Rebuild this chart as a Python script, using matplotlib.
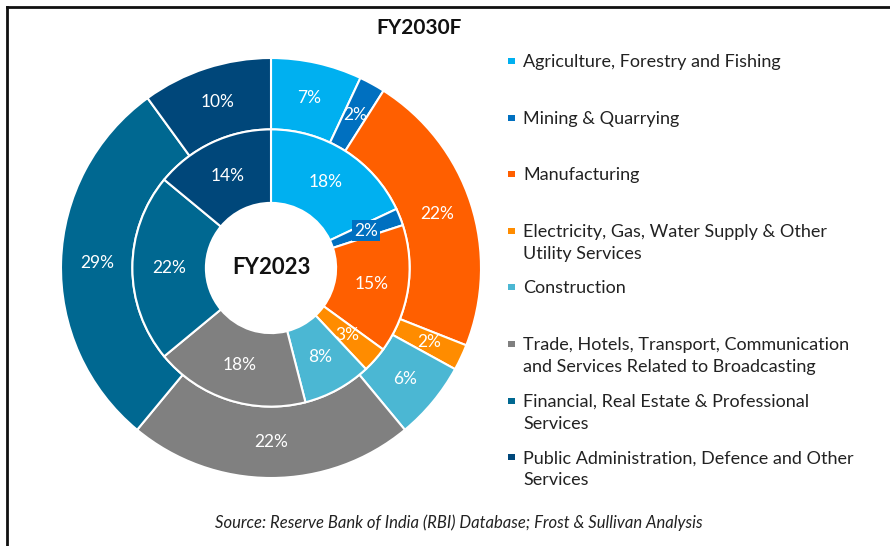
import matplotlib
matplotlib.use("Agg")
import matplotlib.pyplot as plt
from matplotlib.patches import Rectangle
from matplotlib.lines import Line2D

plt.rcParams['font.family'] = ['Lato', 'DejaVu Sans']

# sector shares, % of GVA
sectors = [
    "Agriculture, Forestry and Fishing",
    "Mining & Quarrying",
    "Manufacturing",
    "Electricity, Gas, Water Supply & Other\nUtility Services",
    "Construction",
    "Trade, Hotels, Transport, Communication\nand Services Related to Broadcasting",
    "Financial, Real Estate & Professional\nServices",
    "Public Administration, Defence and Other\nServices",
]
fy2023 = [18, 2, 15, 3, 8, 18, 22, 14]
fy2030f = [7, 2, 22, 2, 6, 22, 29, 10]
colors = ["#00B0F0", "#0070C0", "#FF5F00", "#FF8C00", "#4BB7D3",
          "#808080", "#006891", "#00477A"]

W, H = 890, 546


def fx(x):
    return x / W


def fy(y):
    return 1 - y / H


fig = plt.figure(figsize=(8.9, 5.46), dpi=100)

# frame lines (top and left visible in the original)
fig.add_artist(Line2D([fx(7), 1], [fy(7), fy(7)], color="#111111", lw=2))
fig.add_artist(Line2D([fx(7), fx(7)], [fy(7), 0], color="#111111", lw=2))

cx, cy, R = 271, 268, 210
ax = fig.add_axes([fx(cx - R), fy(cy + R), 2 * R / W, 2 * R / H])

r_in, r_mid, r_out = 0.31, 0.66, 1.0
pct = lambda p: f"{p:.0f}%"

w_out, _, t_out = ax.pie(fy2030f, radius=r_out, colors=colors, startangle=90,
                         counterclock=False, autopct=pct,
                         pctdistance=(r_mid + r_out) / 2 / r_out,
                         wedgeprops=dict(width=r_out - r_mid, edgecolor="white", linewidth=1.5),
                         textprops=dict(color="white", fontsize=12.5))
w_in, _, t_in = ax.pie(fy2023, radius=r_mid, colors=colors, startangle=90,
                       counterclock=False, autopct=pct,
                       pctdistance=(r_in + r_mid) / 2 / r_mid,
                       wedgeprops=dict(width=r_mid - r_in, edgecolor="white", linewidth=1.5),
                       textprops=dict(color="white", fontsize=12.5))
t_in[1].set_bbox(dict(facecolor=colors[1], edgecolor="none", pad=1.5))
ax.set_xlim(-1, 1)
ax.set_ylim(-1, 1)

ax.text(0, 0, "FY2023", ha="center", va="center", fontsize=16, fontweight="bold", color="#111111")
fig.text(fx(419), fy(28), "FY2030F", ha="center", va="center", fontsize=15,
         fontweight="bold", color="#111111")

# legend
for i, (lab, c) in enumerate(zip(sectors, colors)):
    base = 67 + 56.6 * i
    fig.add_artist(Rectangle((fx(508), fy(64 + 56.6 * i)), 7 / W, 6 / H,
                             transform=fig.transFigure, facecolor=c, edgecolor="none"))
    for k, line in enumerate(lab.split("\n")):
        fig.text(fx(523), fy(base + 22 * k), line, ha="left", va="baseline",
                 fontsize=13, color="#222222")

fig.text(fx(459), fy(528), "Source: Reserve Bank of India (RBI) Database; Frost & Sullivan Analysis",
         ha="center", va="baseline", fontsize=12, style="italic", color="#222222")

fig.savefig("out.png", dpi=100)
